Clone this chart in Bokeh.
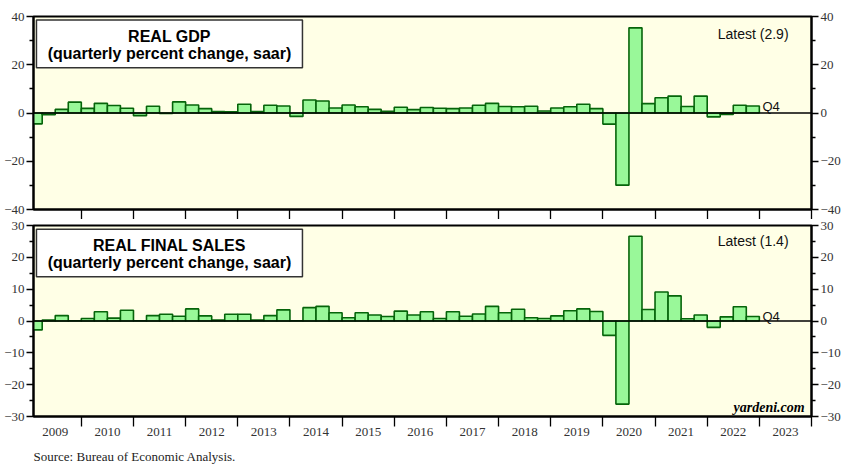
from bokeh.plotting import figure
from bokeh.layouts import column
from bokeh.models import Range1d, FixedTicker, LinearAxis, Span, ColumnDataSource, Label, Title
from bokeh.embed import file_html
from bokeh.resources import INLINE

# ---------------- data ----------------
years = list(range(2009, 2023))
quarters = ["Q1", "Q2", "Q3", "Q4"]

real_gdp = [
    -4.5, -0.7, 1.5, 4.5,     # 2009
    1.9, 4.0, 3.1, 2.0,       # 2010
    -1.1, 2.8, -0.2, 4.6,     # 2011
    3.3, 1.8, 0.6, 0.5,       # 2012
    3.6, 0.6, 3.2, 2.9,       # 2013
    -1.4, 5.4, 5.0, 2.1,      # 2014
    3.3, 2.6, 1.5, 0.7,       # 2015
    2.4, 1.4, 2.3, 2.0,       # 2016
    1.8, 2.1, 3.2, 4.0,       # 2017
    2.7, 2.6, 2.8, 0.8,       # 2018
    2.1, 2.6, 3.6, 1.8,       # 2019
    -4.6, -29.9, 35.3, 3.9,   # 2020
    6.3, 7.0, 2.7, 7.0,       # 2021
    -1.6, -0.6, 3.2, 2.9,     # 2022
]

real_final_sales = [
    -2.8, 0.3, 1.7, 0.1,      # 2009
    0.8, 2.9, 0.9, 3.4,       # 2010
    0.1, 1.7, 2.1, 1.5,       # 2011
    3.8, 1.6, 0.3, 2.1,       # 2012
    2.1, 0.3, 1.7, 3.5,       # 2013
    0.1, 4.2, 4.6, 2.6,       # 2014
    1.0, 2.6, 1.9, 1.4,       # 2015
    3.1, 1.9, 2.9, 0.8,       # 2016
    2.9, 1.5, 2.2, 4.6,       # 2017
    2.6, 3.7, 1.0, 0.8,       # 2018
    1.6, 3.2, 3.8, 3.0,       # 2019
    -4.5, -26.1, 26.6, 3.6,   # 2020
    9.1, 7.9, 0.7, 1.9,       # 2021
    -2.0, 1.3, 4.5, 1.4,      # 2022
]

year_labels = [str(y) for y in range(2009, 2024)]
gdp_yticks = [-40, -20, 0, 20, 40]
gdp_yminor = [-30, -10, 10, 30]
sales_yticks = [-30, -20, -10, 0, 10, 20, 30]
sales_yminor = [-25, -15, -5, 5, 15, 25]

# ---------------- styling ----------------
X0, X1 = 2009.0833, 2024.0
BG = "#FFFFE6"
BAR_FILL = "#99F899"
BAR_LINE = "#06640A"
TICK_FONT = "Liberation Serif"
SANS = "Liberation Sans"
LBL_COLOR = "#333333"
FIG_W = 849

lefts = [y + 0.25 * q for y in years for q in range(len(quarters))]
rights = [l + 0.25 for l in lefts]


def style_yaxis(ax):
    ax.major_tick_out = 7
    ax.major_tick_in = 0
    ax.minor_tick_out = 4
    ax.minor_tick_in = 0
    ax.major_label_standoff = 2
    ax.major_label_text_font = TICK_FONT
    ax.major_label_text_font_size = "13px"
    ax.major_label_text_color = LBL_COLOR
    ax.axis_line_color = "black"
    ax.axis_line_width = 2
    ax.major_tick_line_color = "black"
    ax.minor_tick_line_color = "black"
    ax.major_tick_line_width = 1.3
    ax.minor_tick_line_width = 1.3


def make_panel(vals, yr, yticks, yminor, height, top_border, bottom_border,
               title1, title2, box, t1y, t2y, latest_y, last_label, yard=None):
    p = figure(width=FIG_W, height=height, output_backend="svg", toolbar_location=None,
               x_range=Range1d(X0, X1), y_range=Range1d(*yr),
               min_border_left=33, min_border_right=38,
               min_border_top=top_border, min_border_bottom=bottom_border,
               x_axis_location=None, y_axis_location="left")
    p.background_fill_color = BG
    p.border_fill_color = "white"
    p.outline_line_color = "black"
    p.outline_line_width = 2
    p.xgrid.visible = False
    p.ygrid.visible = False

    ticker = FixedTicker(ticks=yticks, minor_ticks=yminor)
    p.yaxis.ticker = ticker
    style_yaxis(p.yaxis[0])
    r_ax = LinearAxis(ticker=ticker)
    style_yaxis(r_ax)
    p.add_layout(r_ax, "right")

    src = ColumnDataSource(dict(left=lefts, right=rights, top=vals, bottom=[0] * len(vals)))
    p.quad(left="left", right="right", top="top", bottom="bottom", source=src,
           fill_color=BAR_FILL, line_color=BAR_LINE, line_width=1.6)

    p.add_layout(Span(location=0, dimension="width", line_color="black", line_width=1.5))

    # title box
    p.quad(left=[box[0]], right=[box[1]], top=[box[2]], bottom=[box[3]],
           fill_color="white", line_color="#333333", line_width=1.5)
    xm = (box[0] + box[1]) / 2
    p.add_layout(Label(x=xm, y=t1y, text=title1, text_align="center", text_baseline="middle",
                       text_font=SANS, text_font_style="bold", text_font_size="16px",
                       text_color="black"))
    p.add_layout(Label(x=xm, y=t2y, text=title2, text_align="center", text_baseline="middle",
                       text_font=SANS, text_font_style="bold", text_font_size="16px",
                       text_color="black"))

    p.add_layout(Label(x=2023.56, y=latest_y, text="Latest (%.1f)" % vals[-1],
                       text_align="right", text_baseline="middle",
                       text_font=SANS, text_font_size="14px", text_color="#111111"))
    p.add_layout(Label(x=rights[-1] + 0.06, y=vals[-1], text=last_label,
                       text_align="left", text_baseline="middle",
                       text_font=SANS, text_font_size="13px", text_color="#111111"))
    if yard:
        p.add_layout(Label(x=2023.87, y=yard, text="yardeni.com",
                           text_align="right", text_baseline="middle",
                           text_font=TICK_FONT, text_font_style="bold italic",
                           text_font_size="14px", text_color="black"))
    return p


# ---------------- top panel ----------------
p1 = make_panel(real_gdp, (-40, 40), gdp_yticks, gdp_yminor, 219, 16, 10,
                "REAL GDP", "(quarterly percent change, saar)",
                (2009.14, 2014.24, 38.6, 18.8), 31.8, 24.6, 32.8, quarters[-1])
xa1 = LinearAxis(ticker=FixedTicker(ticks=[], minor_ticks=list(range(2010, 2025))))
xa1.major_label_text_font_size = "0px"
xa1.major_label_standoff = 0
xa1.major_tick_out = 0
xa1.minor_tick_out = 10
xa1.minor_tick_in = 0
xa1.minor_tick_line_width = 1.3
xa1.minor_tick_line_color = "black"
xa1.axis_line_color = "black"
xa1.axis_line_width = 2
p1.add_layout(xa1, "below")

# ---------------- bottom panel ----------------
p2 = make_panel(real_final_sales, (-30, 30), sales_yticks, sales_yminor, 252, 6, 52,
                "REAL FINAL SALES", "(quarterly percent change, saar)",
                (2009.14, 2014.24, 28.85, 13.9), 23.8, 18.35, 25.2, quarters[-1],
                yard=-27.2)
mids = [int(s) + 0.5 for s in year_labels]
xa2 = LinearAxis(ticker=FixedTicker(ticks=mids, minor_ticks=list(range(2010, 2025))))
xa2.major_label_overrides = {m: s for m, s in zip(mids, year_labels)}
xa2.major_tick_out = 0
xa2.major_tick_in = 0
xa2.major_label_standoff = 1
xa2.major_label_text_font = TICK_FONT
xa2.major_label_text_font_size = "13px"
xa2.major_label_text_color = LBL_COLOR
xa2.minor_tick_out = 10
xa2.minor_tick_in = 0
xa2.minor_tick_line_width = 1.3
xa2.minor_tick_line_color = "black"
xa2.axis_line_color = "black"
xa2.axis_line_width = 2
p2.add_layout(xa2, "below")
p2.add_layout(Title(text="Source: Bureau of Economic Analysis.", align="left",
                    text_font=TICK_FONT, text_font_size="13px", text_font_style="normal",
                    text_color="#222222", standoff=16), "below")

layout = column(p1, p2, spacing=0)
open("out.html", "w").write(file_html(layout, INLINE))
